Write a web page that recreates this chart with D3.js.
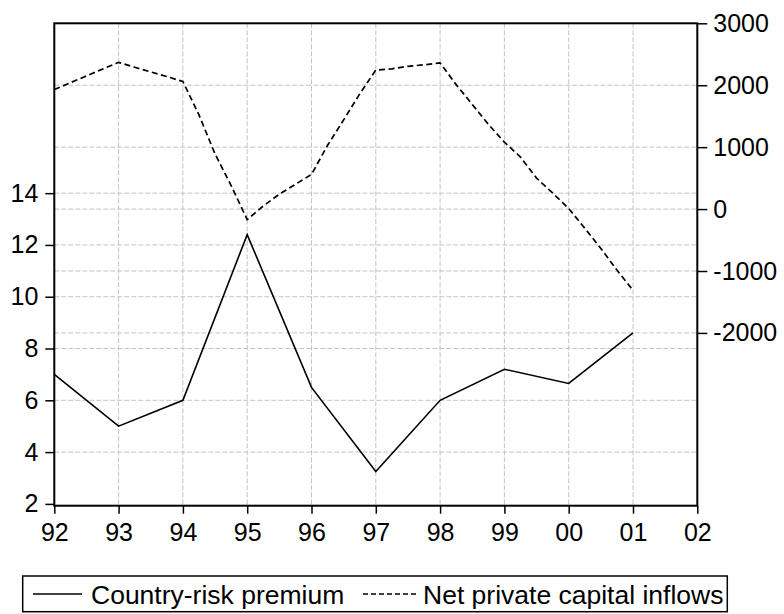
<!DOCTYPE html>
<html>
<head>
<meta charset="utf-8">
<script src="https://cdn.jsdelivr.net/npm/d3@7"></script>
<style>
  html, body { margin: 0; padding: 0; background: #fff; }
  svg { display: block; font-family: "Liberation Sans", Arial, sans-serif; }
</style>
</head>
<body>
<svg id="chart" width="784" height="614"></svg>
<script>
// Annual country-risk premium (left axis)
const riskYears = [1992, 1993, 1994, 1995, 1996, 1997, 1998, 1999, 2000, 2001];
const riskPremium = [7.0, 5.0, 6.0, 12.4, 6.5, 3.25, 6.0, 7.2, 6.65, 8.6];

// Quarterly net private capital inflows (right axis), 1992Q1 .. 2001Q1
const flowQuarters = [
  "1992Q1","1992Q2","1992Q3","1992Q4",
  "1993Q1","1993Q2","1993Q3","1993Q4",
  "1994Q1","1994Q2","1994Q3","1994Q4",
  "1995Q1","1995Q2","1995Q3","1995Q4",
  "1996Q1","1996Q2","1996Q3","1996Q4",
  "1997Q1","1997Q2","1997Q3","1997Q4",
  "1998Q1","1998Q2","1998Q3","1998Q4",
  "1999Q1","1999Q2","1999Q3","1999Q4",
  "2000Q1","2000Q2","2000Q3","2000Q4",
  "2001Q1"
];
const capitalInflows = [
  1930, 2040, 2150, 2260,
  2370, 2290, 2215, 2140,
  2060, 1520, 890, 380,
  -170, 50, 240, 400,
  560, 1030, 1440, 1860,
  2245, 2265, 2305, 2330,
  2360, 2010, 1690, 1370,
  1080, 840, 500, 260,
  10, -310, -635, -985,
  -1310
];

// Axis ticks
const xTicks = [1992, 1993, 1994, 1995, 1996, 1997, 1998, 1999, 2000, 2001, 2002];
const leftTicks = [2, 4, 6, 8, 10, 12, 14];
const rightTicks = [-2000, -1000, 0, 1000, 2000, 3000];

const legendLabels = ["Country-risk premium", "Net private capital inflows"];

const svg = d3.select("#chart");
const plot = { left: 54.3, right: 697.3, top: 23.3, bottom: 505.7 };

const x = d3.scaleLinear().domain([1992, 2002]).range([plot.left, plot.right]);
const yL = d3.scaleLinear().domain([1.93, 20.56]).range([plot.bottom, plot.top]);
const yR = d3.scaleLinear().domain([-4790, 3000]).range([plot.bottom, plot.top]);

const quarterToYear = q => +q.slice(0, 4) + (+q.slice(5) - 1) / 4;

// Grid
const grid = svg.append("g")
  .attr("stroke", "#c4c4c4").attr("stroke-width", 1)
  .attr("stroke-dasharray", "5,2").attr("fill", "none");
xTicks.filter(t => t > 1992 && t < 2002).forEach(t => {
  grid.append("line").attr("x1", x(t)).attr("x2", x(t))
    .attr("y1", plot.top).attr("y2", plot.bottom);
});
leftTicks.filter(t => t > 2).forEach(t => {
  grid.append("line").attr("x1", plot.left).attr("x2", plot.right)
    .attr("y1", yL(t)).attr("y2", yL(t));
});
rightTicks.filter(t => t < 3000).forEach(t => {
  grid.append("line").attr("x1", plot.left).attr("x2", plot.right)
    .attr("y1", yR(t)).attr("y2", yR(t));
});

// Series
const riskLine = d3.line().x((d, i) => x(riskYears[i])).y(d => yL(d));
svg.append("path").datum(riskPremium)
  .attr("d", riskLine)
  .attr("fill", "none").attr("stroke", "#000").attr("stroke-width", 1.6)
  .attr("stroke-linejoin", "miter");

const flowLine = d3.line().x((d, i) => x(quarterToYear(flowQuarters[i]))).y(d => yR(d));
svg.append("path").datum(capitalInflows)
  .attr("d", flowLine)
  .attr("fill", "none").attr("stroke", "#000").attr("stroke-width", 1.7)
  .attr("stroke-dasharray", "6,3.5");

// Axes
const fontSize = 25;
const styleAxis = g => {
  g.select(".domain").remove();
  g.selectAll(".tick line").attr("stroke", "#000").attr("stroke-width", 1.5);
  g.selectAll(".tick text").attr("fill", "#000").style("font-size", fontSize + "px")
    .style("font-family", '"Liberation Sans", Arial, sans-serif');
};

svg.append("g").attr("transform", `translate(${plot.left},0)`)
  .call(d3.axisLeft(yL).tickValues(leftTicks).tickSize(9).tickPadding(7).tickSizeOuter(0))
  .call(styleAxis);

svg.append("g").attr("transform", `translate(${plot.right},0)`)
  .call(d3.axisRight(yR).tickValues(rightTicks).tickSize(10).tickPadding(6).tickSizeOuter(0)
    .tickFormat(d => String(d)))
  .call(styleAxis);

svg.append("g").attr("transform", `translate(0,${plot.bottom})`)
  .call(d3.axisBottom(x).tickValues(xTicks).tickSize(8).tickPadding(10).tickSizeOuter(0)
    .tickFormat(d => String(d % 100).padStart(2, "0")))
  .call(styleAxis);

// Frame
svg.append("rect")
  .attr("x", plot.left).attr("y", plot.top)
  .attr("width", plot.right - plot.left).attr("height", plot.bottom - plot.top)
  .attr("fill", "none").attr("stroke", "#000").attr("stroke-width", 2);

// Legend
const legend = svg.append("g");
legend.append("rect")
  .attr("x", 22.7).attr("y", 576).attr("width", 704.6).attr("height", 35.7)
  .attr("fill", "#fff").attr("stroke", "#000").attr("stroke-width", 1.5);
const legY = 594;
legend.append("line").attr("x1", 33).attr("x2", 82).attr("y1", legY).attr("y2", legY)
  .attr("stroke", "#000").attr("stroke-width", 1.5);
legend.append("text").attr("x", 91).attr("y", legY).attr("dy", "0.36em")
  .style("font-size", "26.5px").text(legendLabels[0]);
legend.append("line").attr("x1", 363).attr("x2", 416).attr("y1", legY).attr("y2", legY)
  .attr("stroke", "#000").attr("stroke-width", 1.5).attr("stroke-dasharray", "5,3");
legend.append("text").attr("x", 423).attr("y", legY).attr("dy", "0.36em")
  .style("font-size", "26.5px").text(legendLabels[1]);
</script>
</body>
</html>
